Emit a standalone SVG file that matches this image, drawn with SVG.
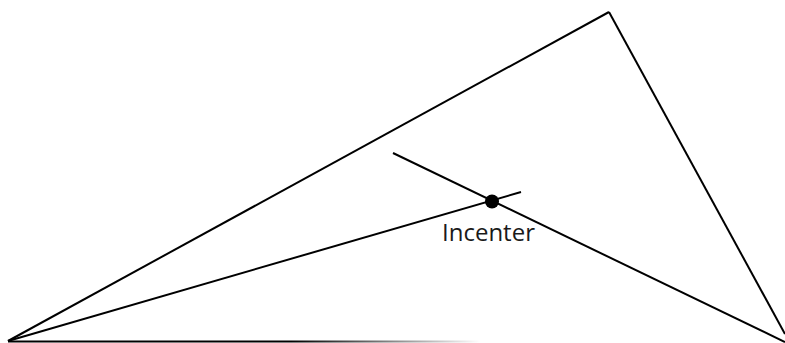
<svg xmlns="http://www.w3.org/2000/svg" width="785" height="343" viewBox="0 0 785 343">
  <defs>
    <style>
      .ln { stroke: #000; stroke-width: 2; fill: none; stroke-linecap: butt; }
      .lbl { font-family: "Open Sans", "Liberation Sans", sans-serif; font-size: 24px; fill: #1a1a1a; }
    </style>
    <linearGradient id="fade" gradientUnits="userSpaceOnUse" x1="8" y1="0" x2="480" y2="0">
      <stop offset="0" stop-color="#000"/>
      <stop offset="0.6" stop-color="#000"/>
      <stop offset="1" stop-color="#fff"/>
    </linearGradient>
  </defs>
  <rect width="785" height="343" fill="#fff"/>
  <g id="connectors">
    <line class="ln" x1="8" y1="341" x2="609" y2="12"/>
    <line class="ln" x1="609" y1="12" x2="785" y2="334"/>
    <line x1="8" y1="341.5" x2="480" y2="341.5" stroke="url(#fade)" stroke-width="2"/>
    <line class="ln" x1="8" y1="341" x2="521" y2="192"/>
    <line class="ln" x1="393" y1="153" x2="785" y2="342"/>
  </g>
  <g id="incenter">
    <circle cx="492" cy="201.5" r="7" fill="#000"/>
    <text class="lbl" x="442" y="241">Incenter</text>
  </g>
</svg>
